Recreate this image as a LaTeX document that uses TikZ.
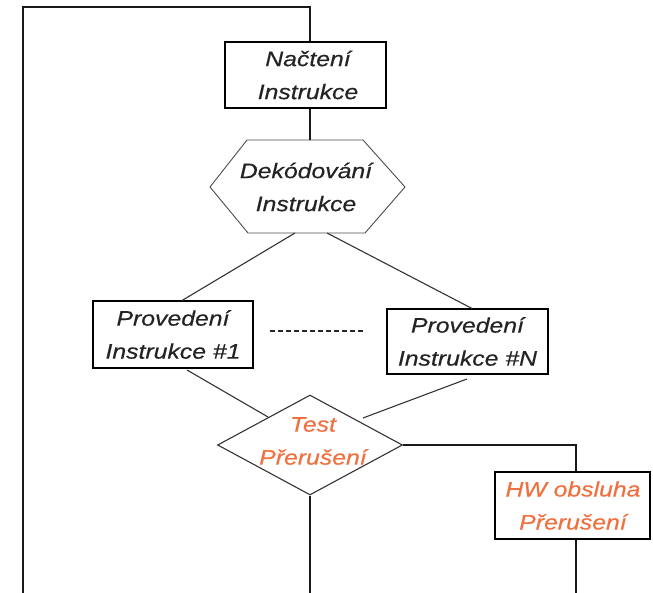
\documentclass[tikz,border=0pt]{standalone}
\usepackage{fontspec}
\setmainfont[FakeStretch=1.18,FakeBold=0.4]{Liberation Sans}
\usetikzlibrary{shapes.geometric}
\definecolor{txtgray}{RGB}{35,35,35}
\definecolor{irqorange}{RGB}{240,112,64}

\begin{document}
\begin{tikzpicture}[x=1pt,y=-1pt,
  lbl/.style={font=\fontsize{21}{33}\selectfont\itshape, text=txtgray, align=center, inner sep=0pt},
  irq/.style={lbl, text=irqorange},
  box/.style={draw=black, line width=1.4pt, inner sep=0pt},
  wire/.style={draw=black!90, line width=1.2pt},
  thin/.style={draw=black!80, line width=1.1pt}]
\useasboundingbox (0,0) rectangle (653,593);

% process boxes
\node[box, minimum width=161pt, minimum height=66pt] (nacteni) at (305.5,75) {};
\node[lbl] at (308,75) {Načtení\\Instrukce};

\node[box, minimum width=160pt, minimum height=67pt] (prov1) at (173,334.5) {};
\node[lbl] at (173,334.5) {Provedení\\Instrukce \#1};

\node[box, minimum width=161pt, minimum height=65pt] (provN) at (467.5,341.5) {};
\node[lbl] at (467.5,341.5) {Provedení\\Instrukce \#N};

\node[box, minimum width=155pt, minimum height=67pt] (hw) at (572.5,505.5) {};
\node[irq] at (573,505.5) {HW obsluha\\Přerušení};

% decode hexagon
\coordinate (h1) at (210,187);
\coordinate (h2) at (247,140);
\coordinate (h3) at (363,140);
\coordinate (h4) at (405,187);
\coordinate (h5) at (365,233);
\coordinate (h6) at (248,233);
\draw[draw=black!70, line width=0.9pt] (h1) -- (h2) -- (h3) -- (h4) -- (h5) -- (h6) -- cycle;
\node[lbl] (dekod) at (306,187) {Dekódování\\Instrukce};

% interrupt test diamond
\node[diamond, thin, inner sep=0pt, minimum width=185pt, minimum height=100pt] (test) at (310,445) {};
\node[irq] (testlbl) at (313,441) {Test\\Přerušení};

% loop back to fetch
\coordinate (topL) at (23,7);
\coordinate (topR) at (310,7);
\coordinate (botL) at (23,593);
\coordinate (botM) at (310,593);
\coordinate (botR) at (576,593);
\coordinate (hwcorner) at (576,445);
\draw[wire] (botL) -- (topL) -- (topR) -- (topR |- nacteni.north);
\draw[wire] (nacteni.south -| topR) -- (topR |- h2);

% branches to execution
\draw[thin] (295,233) -- (182,300.5);
\draw[thin] (327,233) -- (472,308.5);
\draw[draw=black!85, line width=1.5pt, dash pattern=on 5pt off 3pt] (270,331) -- (364,331);

% execution to test
\draw[thin] (187,370) -- (268,417);
\draw[thin] (467,379) -- (363,418);

% test outputs
\draw[wire] (test.east) -- (hwcorner) -- (hw.north -| hwcorner);
\draw[wire] (hw.south -| hwcorner) -- (botR);
\draw[wire] (test.south) -- (botM);
\end{tikzpicture}
\end{document}
